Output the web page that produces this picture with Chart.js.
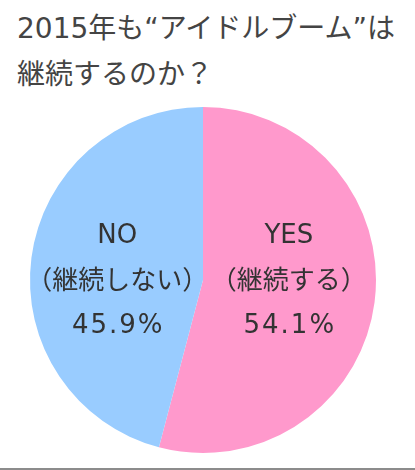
<!DOCTYPE html>
<html lang="ja">
<head>
<meta charset="utf-8">
<script src="https://cdn.jsdelivr.net/npm/chart.js@4"></script>
<style>
  html, body { margin: 0; padding: 0; background: #fff; }
  .wrap { position: relative; width: 415px; height: 470px; overflow: hidden; }
  .judul {
    position: absolute; left: 17px; top: 6px;
    font-family: "DejaVu Sans", "Noto Sans CJK JP", sans-serif;
    font-size: 28px; line-height: 46px; color: #444;
    white-space: nowrap;
  }
  .garis { position: absolute; left: 0; right: 0; top: 468px; height: 2px; background: #8c8c8c; }
  canvas { position: absolute; left: 0; top: 0; }
</style>
</head>
<body>
<div class="wrap">
  <div class="judul">2015年も“アイドルブーム”は<br>継続するのか？</div>
  <canvas id="pieChart" width="415" height="468"></canvas>
  <div class="garis"></div>
</div>
<script>
// ==========================
// DATA
// ==========================
const kategori = ["YES", "NO"];
const subLabel = ["（継続する）", "（継続しない）"];
const nilai = [54.1, 45.9];
const warna = ["#ff99cc", "#99ccff"];

// ==========================
// LABEL DI DALAM PIE
// ==========================
const labelPlugin = {
  id: "labelDalam",
  afterDatasetsDraw(chart) {
    const ctx = chart.ctx;
    const meta = chart.getDatasetMeta(0);
    ctx.save();
    ctx.fillStyle = "#333";
    ctx.textAlign = "center";
    ctx.textBaseline = "middle";
    ctx.font = '26px "DejaVu Sans", "Noto Sans CJK JP", sans-serif';
    meta.data.forEach((arc, i) => {
      const p = arc.getProps(["x", "y", "startAngle", "endAngle", "outerRadius"], true);
      const mid = (p.startAngle + p.endAngle) / 2;
      const x = p.x + Math.cos(mid) * p.outerRadius / 2;
      const y = p.y + 2;
      ctx.letterSpacing = "0px";
      ctx.fillText(kategori[i], x, y - 46);
      ctx.fillText(subLabel[i], x, y);
      ctx.letterSpacing = "2px";
      ctx.fillText(nilai[i].toFixed(1) + "%", x + 1, y + 44);
    });
    ctx.restore();
  }
};

// ==========================
// CHART
// ==========================
new Chart(document.getElementById("pieChart"), {
  type: "pie",
  data: {
    labels: kategori,
    datasets: [{
      data: nilai,
      backgroundColor: warna,
      borderWidth: 0,
      hoverOffset: 0
    }]
  },
  options: {
    responsive: false,
    animation: false,
    layout: { padding: { top: 107, bottom: 15, left: 0, right: 9 } },
    plugins: {
      legend: { display: false },
      tooltip: { enabled: false }
    }
  },
  plugins: [labelPlugin]
});
</script>
</body>
</html>
